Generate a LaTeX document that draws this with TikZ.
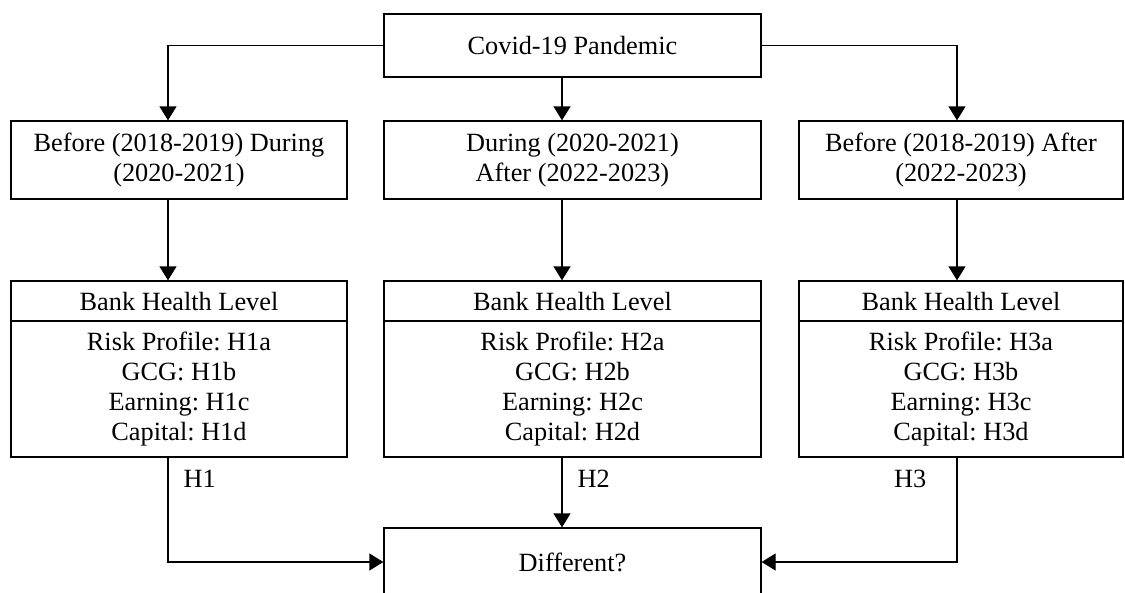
\documentclass[tikz,border=0pt]{standalone}
\usepackage{fontspec}
\setmainfont{Liberation Serif}
\usetikzlibrary{arrows.meta}
\frenchspacing

\begin{document}
\begin{tikzpicture}[x=1pt,y=-1pt,
  box/.style={draw,line width=1.3pt,inner sep=0pt,align=center,font=\fontsize{26.3}{30.2}\selectfont},
  tag/.style={inner sep=0pt,font=\fontsize{26.3}{30.2}\selectfont},
  link/.style={line width=1.3pt,-{Triangle[width=17pt,length=14pt]}}]
  \useasboundingbox (0,0) rectangle (1125,592);
  \coordinate (c1) at (168,0);
  \coordinate (c2) at (562,0);
  \coordinate (c3) at (957,0);
  \node[box,minimum width=377pt,minimum height=63pt] (covid) at (572.5,45.5) {Covid-19 Pandemic};
  \node[box,minimum width=336pt,minimum height=78pt] (per1) at (179,160) {Before (2018-2019) During\\(2020-2021)};
  \node[box,minimum width=377pt,minimum height=78pt] (per2) at (572.5,160) {During (2020-2021)\\After (2022-2023)};
  \node[box,minimum width=324pt,minimum height=78pt] (per3) at (961,160) {Before (2018-2019) After\\(2022-2023)};
  \node[box,minimum width=336pt,minimum height=40pt] (head1) at (179,301) {Bank Health Level};
  \node[box,minimum width=377pt,minimum height=40pt] (head2) at (572.5,301) {Bank Health Level};
  \node[box,minimum width=324pt,minimum height=40pt] (head3) at (961,301) {Bank Health Level};
  \node[box,minimum width=336pt,minimum height=136pt] (body1) at (179,389) {Risk Profile: H1a\\GCG: H1b\\Earning: H1c\\Capital: H1d};
  \node[box,minimum width=377pt,minimum height=136pt] (body2) at (572.5,389) {Risk Profile: H2a\\GCG: H2b\\Earning: H2c\\Capital: H2d};
  \node[box,minimum width=324pt,minimum height=136pt] (body3) at (961,389) {Risk Profile: H3a\\GCG: H3b\\Earning: H3c\\Capital: H3d};
  \node[box,minimum width=377pt,minimum height=68pt] (diff) at (572.5,562) {Different?};

  \draw[link] (covid.west) -| (per1.north -| c1);
  \draw[link] (covid.south -| c2) -- (per2.north -| c2);
  \draw[link] (covid.east) -| (per3.north -| c3);
  \draw[link] (per1.south -| c1) -- (head1.north -| c1);
  \draw[link] (per2.south -| c2) -- (head2.north -| c2);
  \draw[link] (per3.south -| c3) -- (head3.north -| c3);
  \draw[link] (body1.south -| c1) |- node[tag,pos=0.1,anchor=west,xshift=15pt] {H1} (diff.west);
  \draw[link] (body2.south -| c2) -- node[tag,pos=0.3,anchor=west,xshift=15pt] {H2} (diff.north -| c2);
  \draw[link] (body3.south -| c3) |- node[tag,pos=0.1,anchor=east,xshift=-30pt] {H3} (diff.east);
\end{tikzpicture}
\end{document}
